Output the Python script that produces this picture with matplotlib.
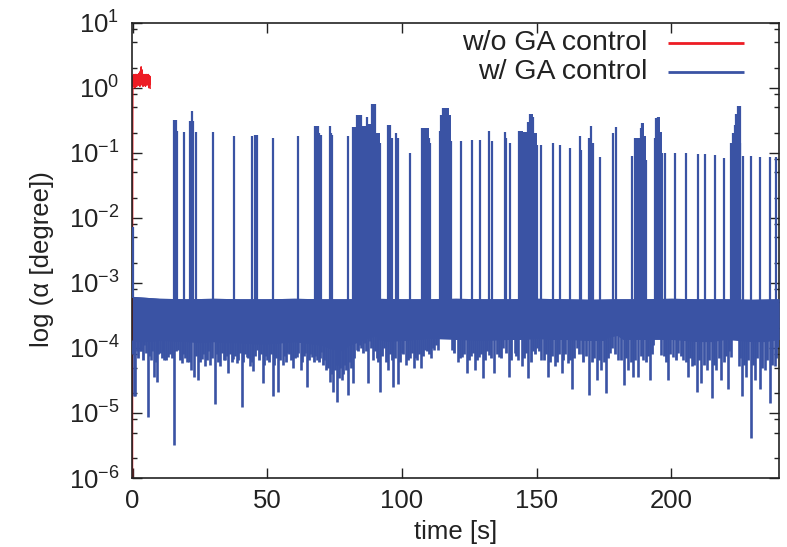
import matplotlib
matplotlib.use("Agg")
import matplotlib.pyplot as plt
from matplotlib.ticker import LogLocator, NullFormatter, FixedLocator, NullLocator
import numpy as np

plt.rcParams['font.family'] = ['Liberation Sans', 'DejaVu Sans']
plt.rcParams['mathtext.fontset'] = 'custom'
plt.rcParams['mathtext.rm'] = 'Liberation Sans'
plt.rcParams['mathtext.it'] = 'Liberation Sans:italic'
plt.rcParams['mathtext.default'] = 'regular'

BLUE = '#3a53a4'
RED = '#ed1c24'
INK = '#222222'

# ---- without GA control: diverges right after start ----
red_t = [0.0, 0.02, 0.05, 0.10, 0.15, 0.25, 0.35, 0.50, 0.65, 0.80, 0.95, 1.10, 1.25,
         1.40, 1.55, 1.70, 1.85, 2.00, 2.15, 2.30, 2.45, 2.60, 2.75, 2.90, 3.05, 3.20,
         3.35, 3.45, 3.60, 3.75, 3.90, 4.05, 4.20, 4.35, 4.50, 4.65, 4.80, 4.95, 5.10,
         5.25, 5.40, 5.55, 5.70, 5.85, 6.00, 6.15, 6.30, 6.45, 6.55]
red_v = [1e-7, 1e-4, 2e-2, 0.4, 1.3, 1.55, 1.05, 1.6, 1.1, 1.55, 1.0, 1.6, 1.1,
         1.6, 1.05, 1.55, 1.15, 1.6, 1.1, 1.65, 1.1, 1.7, 1.05, 1.8, 1.1, 2.1,
         1.2, 1.9, 1.1, 1.6, 1.05, 1.6, 1.15, 1.55, 1.1, 1.6, 1.05, 1.55, 1.1,
         1.6, 1.15, 1.55, 1.1, 1.6, 1.0, 1.55, 1.1, 1.5, 0.98]

# ---- with GA control: steady band of residual oscillation ----
band_t = [0, 10, 20, 30, 40, 50, 60, 70, 80, 90, 100, 110, 120, 130, 140, 150,
          160, 170, 180, 190, 200, 210, 220, 230, 240]
band_top = [6.2e-4, 5.8e-4, 5.7e-4, 5.8e-4, 5.7e-4, 5.7e-4, 5.8e-4, 5.7e-4, 5.7e-4,
            5.8e-4, 5.7e-4, 5.7e-4, 5.8e-4, 5.7e-4, 5.7e-4, 5.8e-4, 5.7e-4, 5.6e-4,
            5.7e-4, 5.7e-4, 5.8e-4, 5.7e-4, 5.7e-4, 5.6e-4, 5.7e-4]

floor_t = [0, 5, 10, 15, 20, 25, 30, 35, 40, 45, 50, 55, 60, 65, 70, 74, 78, 82, 84,
           88, 91, 95, 100, 105, 110, 113, 115, 116.5, 117.3, 117.8, 120, 125, 130,
           135, 140, 145, 150, 155, 160, 165, 170, 175, 178.5, 182, 185, 190, 193.5,
           195.1, 196.5, 200, 205, 210, 215, 220, 222.5, 223.6, 224.5, 230, 235, 240]
floor_v = [1.25e-4, 1.25e-4, 1.3e-4, 1.3e-4, 1.25e-4, 1.2e-4, 1.25e-4, 1.2e-4, 1.2e-4,
           1.15e-4, 1.15e-4, 1.2e-4, 1.25e-4, 1.2e-4, 1.1e-4, 9.5e-5, 9.0e-5, 1.25e-4,
           1.7e-4, 1.9e-4, 1.35e-4, 1.25e-4, 1.3e-4, 1.35e-4, 1.4e-4, 1.6e-4, 2.2e-4,
           3.3e-4, 4.9e-4, 1.6e-4, 1.35e-4, 1.35e-4, 1.3e-4, 1.35e-4, 1.35e-4, 1.35e-4,
           1.4e-4, 1.35e-4, 1.35e-4, 1.35e-4, 1.3e-4, 1.3e-4, 1.7e-4, 1.35e-4, 1.35e-4,
           1.35e-4, 1.6e-4, 3.0e-4, 1.45e-4, 1.35e-4, 1.35e-4, 1.25e-4, 1.25e-4, 1.35e-4,
           1.5e-4, 1.9e-4, 1.45e-4, 1.25e-4, 1.25e-4, 1.35e-4]

# deep downward excursions below the band
dip_t = [0.6, 1.0, 1.5, 2.6, 4.4, 5.6, 6.8, 8.1, 9.0, 10.2, 11.8, 13.3, 15.5, 17.0,
         18.2, 20.1, 21.7, 22.8, 24.2, 25.7, 26.9, 28.8, 30.6, 32.5, 34.3, 35.6,
         37.4, 38.7, 40.5, 42.4, 43.6, 44.8, 46.4, 48.3, 50.0, 52.0, 54.1, 55.7,
         57.4, 59.4, 60.9, 62.4, 64.0, 64.9, 66.5, 68.4, 70.0, 71.8, 73.3, 74.5,
         76.1, 77.6, 79.9, 81.7, 83.2, 85.0, 87.5, 89.3, 91.8, 93.4, 94.9, 96.8,
         98.4, 99.9, 101.4, 103.0, 104.6, 105.6, 107.1, 108.6, 110.8, 112.0, 113.5,
         118.7, 120.7, 122.4, 124.0, 125.6, 127.1, 128.6, 130.2, 132.3, 134.3,
         136.0, 137.6, 139.8, 141.9, 143.2, 144.5, 146.9, 148.7, 150.2, 151.8,
         154.3, 156.8, 159.3, 161.7, 163.0, 164.9, 166.8, 169.5, 172.3, 174.1,
         175.7, 177.2, 180.3, 182.4, 184.0, 185.9, 187.7, 189.6, 192.0, 196.2,
         198.8, 200.6, 202.6, 204.5, 206.3, 207.8, 209.4, 211.2, 213.1, 215.2,
         216.8, 218.4, 220.9, 222.1, 225.0, 226.3, 227.9, 229.5, 231.2, 232.9,
         234.7, 236.6, 238.4, 239.7]
dip_v = [1.8e-5, 1.8e-5, 9e-5, 9e-5, 1.1e-4, 8.8e-6, 6.5e-5, 3.6e-5, 3.0e-5, 8.3e-5,
         6.5e-5, 7.3e-5, 3.2e-6, 9.3e-5, 5.8e-5, 6.0e-5, 4.6e-5, 3.6e-5, 3.2e-5,
         6.8e-5, 5.2e-5, 5.4e-5, 1.35e-5, 5.2e-5, 6.5e-5, 4.1e-5, 6.8e-5, 5.8e-5,
         1.25e-5, 7.3e-5, 5.2e-5, 4.4e-5, 9.3e-5, 2.9e-5, 6.5e-5, 1.8e-5, 2.1e-5,
         5.5e-5, 8.3e-5, 4.9e-5, 7.3e-5, 4.6e-5, 8.3e-5, 2.5e-5, 7.3e-5, 6.5e-5,
         8.8e-5, 4.6e-5, 3.0e-5, 2.1e-5, 1.5e-5, 3.2e-5, 1.9e-5, 2.9e-5, 9.3e-5,
         1.0e-4, 2.9e-5, 6.5e-5, 2.1e-5, 1.0e-4, 4.6e-5, 2.5e-5, 2.8e-5, 8.3e-5,
         5.5e-5, 7.0e-5, 4.9e-5, 6.5e-5, 4.9e-5, 9.3e-5, 6.9e-5, 9.3e-5, 9.3e-5,
         9.3e-5, 6.0e-5, 7.3e-5, 4.1e-5, 7.6e-5, 4.6e-5, 7.3e-5, 3.4e-5, 7.8e-5,
         4.1e-5, 7.3e-5, 1.0e-4, 3.6e-5, 8.3e-5, 6.5e-5, 5.2e-5, 3.4e-5, 9.0e-5,
         1.0e-4, 6.5e-5, 3.6e-5, 5.2e-5, 4.1e-5, 5.8e-5, 2.3e-5, 1.0e-4, 8.0e-5,
         1.9e-5, 3.2e-5, 4.6e-5, 2.0e-5, 8.3e-5, 6.5e-5, 2.7e-5, 4.6e-5, 3.6e-5,
         3.6e-5, 6.5e-5, 3.2e-5, 7.8e-5, 3.2e-5, 7.3e-5, 8.3e-5, 6.5e-5, 3.6e-5,
         5.2e-5, 2.1e-5, 2.9e-5, 4.6e-5, 1.7e-5, 4.6e-5, 3.2e-5, 2.3e-5, 7.3e-5,
         5.2e-5, 1.8e-5, 3.6e-5, 4.1e-6, 3.2e-5, 2.3e-5, 4.6e-5, 1.4e-5, 5.2e-5,
         1.05e-4]

# shallow ragged excursions filling the lower edge of the band
shallow_t = [0.3, 2.0, 3.3, 4.0, 5.0, 6.2, 7.4, 8.6, 9.6, 10.8,
             11.2, 12.5, 14.0, 14.7, 16.2, 17.6, 18.9, 19.5, 21.0, 23.4,
             24.9, 26.3, 27.6, 28.2, 29.5, 31.2, 31.8, 33.2, 33.8, 35.0,
             36.2, 36.8, 38.0, 39.3, 40.0, 41.2, 41.8, 43.0, 44.2, 45.4,
             47.0, 47.6, 48.9, 49.4, 50.6, 51.3, 52.7, 53.3, 54.8, 56.3,
             56.9, 58.0, 58.7, 60.2, 61.5, 62.9, 63.5, 65.6, 66.0, 67.2,
             67.8, 69.1, 69.6, 70.7, 71.2, 72.5, 74.0, 75.3, 75.8, 76.8,
             77.2, 78.3, 78.9, 79.4, 80.6, 81.2, 82.4, 83.8, 84.4, 85.6,
             86.2, 86.8, 88.0, 88.7, 90.0, 90.6, 91.2, 92.6, 94.0, 95.6,
             96.2, 97.5, 99.2, 100.5, 102.2, 103.7, 105.0, 106.3, 107.8, 109.4,
             110.2, 111.4, 112.6, 114.2, 119.5, 121.5, 123.2, 124.8, 126.3, 127.8,
             129.4, 131.0, 131.7, 133.2, 135.2, 136.7, 138.7, 140.6, 142.5, 145.3,
             146.1, 147.8, 149.5, 150.9, 152.6, 153.4, 155.1, 155.8, 157.5, 158.2,
             160.0, 160.6, 162.4, 164.0, 165.6, 167.4, 168.2, 170.4, 171.4, 173.2,
             174.9, 176.4, 178.0, 179.0, 181.2, 183.2, 184.9, 186.6, 188.6, 190.6,
             191.3, 192.8, 193.3, 197.4, 198.0, 199.6, 201.6, 203.5, 205.3, 207.0,
             208.5, 210.3, 212.1, 214.0, 216.0, 217.6, 219.5, 220.2, 221.5, 225.6,
             227.2, 228.6, 230.3, 231.9, 233.8, 235.6, 237.4, 238.9]
shallow_v = [8e-5, 7e-5, 9e-5, 6.5e-5, 8.5e-5, 7.5e-5, 9e-5, 6e-5, 8e-5, 7e-5,
             9e-5, 6.5e-5, 8e-5, 7e-5, 9e-5, 6.5e-5, 8e-5, 7e-5, 6e-5, 7.5e-5,
             6e-5, 8e-5, 6.5e-5, 9e-5, 7e-5, 8e-5, 6e-5, 8.5e-5, 6.5e-5, 7.5e-5,
             8e-5, 6e-5, 7.5e-5, 6.5e-5, 8.5e-5, 6e-5, 8e-5, 7e-5, 6e-5, 7.5e-5,
             6.5e-5, 8e-5, 5.5e-5, 7.5e-5, 6e-5, 8e-5, 5.5e-5, 7e-5, 6.5e-5, 7.5e-5,
             6e-5, 8e-5, 6.5e-5, 7e-5, 8.5e-5, 6e-5, 7.5e-5, 6.5e-5, 8e-5, 6e-5,
             7.5e-5, 6e-5, 7e-5, 5.5e-5, 6.5e-5, 5e-5, 4e-5, 4.5e-5, 5.5e-5, 3.5e-5,
             5e-5, 4e-5, 5.5e-5, 4.5e-5, 6e-5, 5e-5, 7e-5, 9e-5, 1.1e-4, 8.5e-5,
             1.2e-4, 9e-5, 1.3e-4, 1.0e-4, 9e-5, 7e-5, 6e-5, 7.5e-5, 6e-5, 8e-5,
             6.5e-5, 7e-5, 6e-5, 8e-5, 6.5e-5, 8.5e-5, 7e-5, 8e-5, 7.5e-5, 9e-5,
             8e-5, 1.0e-4, 1.1e-4, 1.5e-4, 8.5e-5, 7e-5, 8e-5, 6.5e-5, 8.5e-5, 6.5e-5,
             8e-5, 6.5e-5, 9e-5, 7e-5, 8e-5, 7e-5, 8.5e-5, 6.5e-5, 7.5e-5, 7e-5,
             8.5e-5, 6e-5, 8e-5, 9e-5, 6.5e-5, 8e-5, 6e-5, 7.5e-5, 6e-5, 8e-5,
             6.5e-5, 8e-5, 6.5e-5, 7e-5, 8e-5, 6e-5, 7.5e-5, 6e-5, 7e-5, 6.5e-5,
             6e-5, 7e-5, 1.0e-4, 8e-5, 6.5e-5, 7e-5, 6e-5, 6.5e-5, 7.5e-5, 6e-5,
             7.5e-5, 8e-5, 1.1e-4, 7.5e-5, 6e-5, 8e-5, 6.5e-5, 7.5e-5, 6e-5, 7e-5,
             5.5e-5, 6.5e-5, 5.5e-5, 6.5e-5, 5.5e-5, 7e-5, 6e-5, 7.5e-5, 9e-5, 7e-5,
             5.5e-5, 6.5e-5, 5.5e-5, 7e-5, 5e-5, 6.5e-5, 5.5e-5, 7e-5]

# isolated upward bursts of the control angle
spike_t = [0.1, 15.5, 16.0, 16.5, 19.0, 21.5, 22.0, 22.3, 23.6, 30.0, 37.7, 44.5,
           45.5, 46.1, 52.0, 61.3, 67.7, 68.2, 68.7, 69.2, 69.9, 73.3, 73.8, 74.1,
           80.1, 94.9, 95.5, 96.5, 97.8, 98.6, 103.0, 121.8, 125.9, 128.9, 132.4,
           133.3, 138.2, 138.6, 140.3, 151.8, 156.1, 158.6, 162.3, 166.0, 166.4,
           169.5, 170.2, 170.8, 173.7, 178.4, 179.4, 185.6, 197.6, 201.3, 205.6,
           210.0, 212.4, 216.1, 219.5, 226.6, 229.8, 233.1, 236.5, 238.8]
spike_v = [7.3e-3, 0.32, 0.32, 0.22, 0.21, 0.31, 0.44, 0.31, 0.21, 0.21, 0.18, 0.18,
           0.19, 0.19, 0.17, 0.18, 0.26, 0.26, 0.26, 0.20, 0.19, 0.26, 0.20, 0.19,
           0.18, 0.27, 0.27, 0.17, 0.20, 0.17, 0.10, 0.15, 0.16, 0.16, 0.22, 0.15,
           0.21, 0.17, 0.14, 0.13, 0.14, 0.13, 0.12, 0.18, 0.11, 0.17, 0.26, 0.14,
           0.087, 0.20, 0.25, 0.09, 0.10, 0.10, 0.10, 0.095, 0.095, 0.093, 0.083,
           0.09, 0.09, 0.087, 0.087, 0.087]

# dense bursts (time profile of the envelope)
burst_a_t = [81.7, 82.9, 83.4, 84.7, 85.0, 86.3, 86.9, 87.5, 88.4, 89.0, 90.0, 90.4, 91.2, 91.8]
burst_a_v = [0.25, 0.25, 0.38, 0.38, 0.26, 0.26, 0.36, 0.28, 0.28, 0.56, 0.56, 0.20, 0.20, 0.14]
burst_b_t = [107.3, 109.4, 110.0, 110.4]
burst_b_v = [0.24, 0.24, 0.17, 0.14]
burst_c_t = [114.1, 114.7, 115.3, 116.6, 117.6, 118.4]
burst_c_v = [0.22, 0.38, 0.48, 0.48, 0.38, 0.15]
burst_d_t = [143.5, 145.0, 146.3, 146.9, 147.5, 148.5, 149.0, 150.0]
burst_d_v = [0.22, 0.21, 0.20, 0.30, 0.39, 0.36, 0.20, 0.13]
burst_e_t = [186.5, 187.7, 188.6, 189.2, 189.8, 190.8]
burst_e_v = [0.17, 0.17, 0.24, 0.29, 0.18, 0.078]
burst_f_t = [193.9, 194.5, 195.1, 195.7, 196.4]
burst_f_v = [0.17, 0.34, 0.36, 0.21, 0.10]
burst_g_t = [222.3, 222.9, 223.6, 224.2, 224.8, 225.4, 225.7]
burst_g_v = [0.14, 0.20, 0.27, 0.40, 0.52, 0.52, 0.14]
bursts = [(burst_a_t, burst_a_v), (burst_b_t, burst_b_v), (burst_c_t, burst_c_v),
          (burst_d_t, burst_d_v), (burst_e_t, burst_e_v), (burst_f_t, burst_f_v),
          (burst_g_t, burst_g_v)]

fig = plt.figure(figsize=(7.87, 5.47), dpi=100)
ax = fig.add_axes([0.1677, 0.1261, 0.8221, 0.8324])
ax.set_yscale('log')

# red curve first, blue on top of it
ax.plot(red_t, red_v, color=RED, lw=1.0, zorder=2)

lw_line = 1.6
ax.fill_between(floor_t, floor_v, np.interp(floor_t, band_t, band_top),
                color=BLUE, lw=0, zorder=3)
ax.fill_between(band_t, np.interp(band_t, floor_t, floor_v), band_top,
                color=BLUE, lw=0, zorder=3)
ax.vlines(shallow_t, shallow_v, np.interp(shallow_t, floor_t, floor_v) * 1.05,
          color=BLUE, lw=2.0, zorder=3)
ax.vlines(dip_t, dip_v, np.interp(dip_t, floor_t, floor_v) * 1.05,
          color=BLUE, lw=1.9, zorder=3)
ax.vlines(spike_t, np.interp(spike_t, band_t, band_top) * 0.95, spike_v,
          color=BLUE, lw=lw_line, zorder=3)
for bt, bv in bursts:
    bt = np.asarray(bt)
    base = np.interp(bt, band_t, band_top) * 0.95
    ax.fill_between(bt, base, bv, step='post', color=BLUE, lw=0, zorder=3)
    ax.vlines(bt, base, bv, color=BLUE, lw=lw_line, zorder=3)

ax.set_xlim(-0.2, 240)
ax.set_ylim(1e-6, 1e1)

ax.xaxis.set_major_locator(FixedLocator([0, 50, 100, 150, 200]))
ax.xaxis.set_minor_locator(NullLocator())
ax.yaxis.set_major_locator(LogLocator(base=10, numticks=20))
ax.yaxis.set_minor_locator(LogLocator(base=10, subs=[2, 5, 8], numticks=20))
ax.yaxis.set_minor_formatter(NullFormatter())

ax.tick_params(axis='both', which='both', direction='in', top=True, right=True,
               labelsize=18.5, colors=INK, width=1.0)
ax.tick_params(axis='both', which='major', length=7)
ax.tick_params(axis='both', which='minor', length=3.5)
ax.tick_params(axis='y', which='major', pad=9)
ax.tick_params(axis='x', which='major', pad=8)
for s in ax.spines.values():
    s.set_linewidth(1.2)
    s.set_color(INK)

ax.set_xlabel('time [s]', fontsize=18.5, labelpad=5, color=INK)
ax.set_ylabel('log (α [degree])', fontsize=18.5, color=INK)
ax.yaxis.set_label_coords(-0.12, 0.48)

# key drawn in the top-right corner: label first, sample line after it
key_entries = [('w/o GA control', RED), ('w/ GA control', BLUE)]
key_y = [0.955, 0.892]
for (label, col), yk in zip(key_entries, key_y):
    ax.text(0.797, yk, label, transform=ax.transAxes, ha='right', va='center',
            fontsize=20.5, color=INK, zorder=6)
    ax.plot([0.828, 0.946], [yk, yk], transform=ax.transAxes, color=col, lw=2.0,
            zorder=6, solid_capstyle='butt')

fig.savefig('out.png', dpi=100)
